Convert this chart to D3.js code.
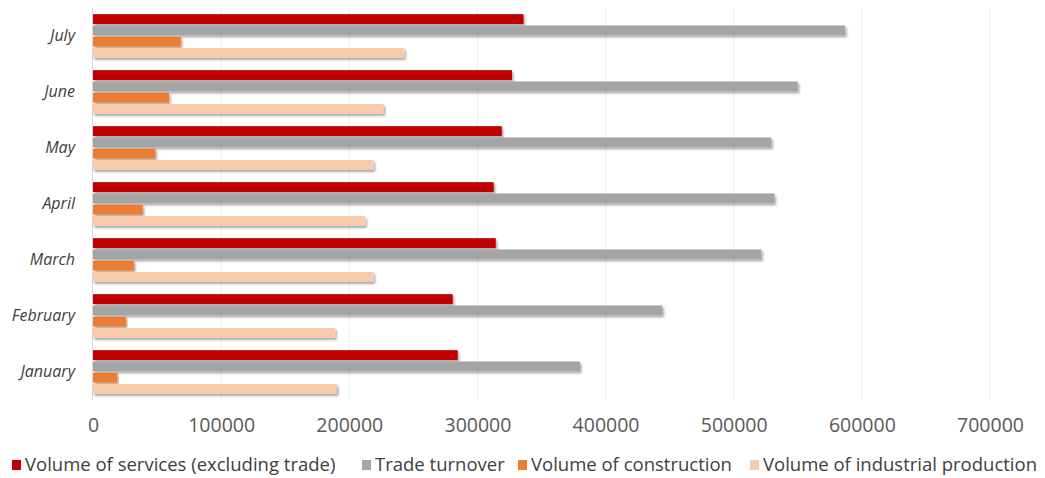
<!DOCTYPE html>
<html>
<head>
<meta charset="utf-8">
<script src="https://cdn.jsdelivr.net/npm/d3@7"></script>
<style>
  body { margin: 0; background: #fff; }
  svg { font-family: "Open Sans", sans-serif; }
</style>
</head>
<body>
<div id="chart"></div>
<script>
// months bottom -> top, as in the picture (January at the bottom)
var months = ["January", "February", "March", "April", "May", "June", "July"];
var seriesNames = ["Volume of services (excluding trade)", "Trade turnover", "Volume of construction", "Volume of industrial production"];
var seriesColors = ["#c00000", "#a5a5a5", "#ed7d31", "#f8cbad"];

var services     = [284600, 280700, 314300, 312700, 319000, 327000, 336000];
var trade        = [380000, 444300, 521600, 531800, 529400, 550000, 587000];
var construction = [19000, 25800, 32000, 38800, 48700, 59400, 68500];
var industry     = [190400, 189000, 219000, 212500, 219000, 226800, 243000];

var xTicks = [0, 100000, 200000, 300000, 400000, 500000, 600000, 700000];

var dimension = {
    width: 1045,
    height: 478,
    left: 93,
    right: 990,
    top: 8,
    bottom: 400
};

var data = months.map(function(m, i) {
    return {
        month: m,
        values: [services[i], trade[i], construction[i], industry[i]]
    };
});

const svg = d3.select("#chart").append("svg")
    .attr("width", dimension.width)
    .attr("height", dimension.height);

// soft shadow under the bars
const defs = svg.append("defs");
const filter = defs.append("filter")
    .attr("id", "shadow")
    .attr("x", "-5%").attr("y", "-50%")
    .attr("width", "110%").attr("height", "200%");
filter.append("feDropShadow")
    .attr("dx", 1.5).attr("dy", 2)
    .attr("stdDeviation", 1.2)
    .attr("flood-color", "#000")
    .attr("flood-opacity", 0.35);

const xScaler = d3.scaleLinear()
    .domain([0, 700000])
    .range([dimension.left, dimension.right]);

// reversed so July sits on top
const yScaler = d3.scaleBand()
    .domain(months.slice().reverse())
    .range([dimension.top, dimension.bottom])
    .paddingInner(0.22)
    .paddingOuter(0.11);

const ySub = d3.scaleBand()
    .domain(d3.range(seriesNames.length))
    .range([0, yScaler.bandwidth()])
    .paddingInner(0.13);

// gridlines
svg.append("g")
    .selectAll("line")
    .data(xTicks.slice(1))
    .join("line")
    .attr("x1", d => xScaler(d))
    .attr("x2", d => xScaler(d))
    .attr("y1", dimension.top)
    .attr("y2", dimension.bottom)
    .attr("stroke", "#ececec")
    .attr("stroke-width", 1);

// bars
const groups = svg.append("g")
    .selectAll("g")
    .data(data)
    .join("g")
    .attr("transform", d => `translate(0,${yScaler(d.month)})`);

groups.selectAll("rect")
    .data(d => d.values.map((v, i) => ({ value: v, series: i })))
    .join("rect")
    .attr("x", xScaler(0))
    .attr("y", d => ySub(d.series))
    .attr("width", d => xScaler(d.value) - xScaler(0))
    .attr("height", ySub.bandwidth())
    .attr("fill", d => seriesColors[d.series])
    .attr("filter", "url(#shadow)");

// left axis line
svg.append("line")
    .attr("x1", xScaler(0) - 0.5)
    .attr("x2", xScaler(0) - 0.5)
    .attr("y1", dimension.top)
    .attr("y2", dimension.bottom)
    .attr("stroke", "#d9d9d9")
    .attr("stroke-width", 1);

// month labels
const yAxis = svg.append("g")
    .attr("transform", `translate(${dimension.left},0)`)
    .call(d3.axisLeft(yScaler).tickSize(0).tickPadding(18));
yAxis.select(".domain").remove();
yAxis.selectAll("text")
    .attr("font-size", 16)
    .attr("font-style", "italic")
    .attr("font-family", "Open Sans, sans-serif")
    .attr("fill", "#404040");

// value labels
const xAxis = svg.append("g")
    .attr("transform", `translate(0,${dimension.bottom})`)
    .call(d3.axisBottom(xScaler).tickValues(xTicks).tickFormat(d3.format("d")).tickSize(0).tickPadding(18));
xAxis.select(".domain").remove();
xAxis.selectAll("text")
    .attr("font-size", 19.5)
    .attr("font-family", "Open Sans, sans-serif")
    .attr("fill", "#595959");

// legend
var legendX = [12, 362, 518, 750];
const legend = svg.append("g")
    .selectAll("g")
    .data(seriesNames)
    .join("g")
    .attr("transform", (d, i) => `translate(${legendX[i]},460)`);

legend.append("rect")
    .attr("width", 9)
    .attr("height", 10)
    .attr("fill", (d, i) => seriesColors[i]);

legend.append("text")
    .attr("x", 13)
    .attr("y", 11)
    .attr("font-size", 18.5)
    .attr("font-family", "Open Sans, sans-serif")
    .attr("fill", "#404040")
    .text(d => d);
</script>
</body>
</html>
